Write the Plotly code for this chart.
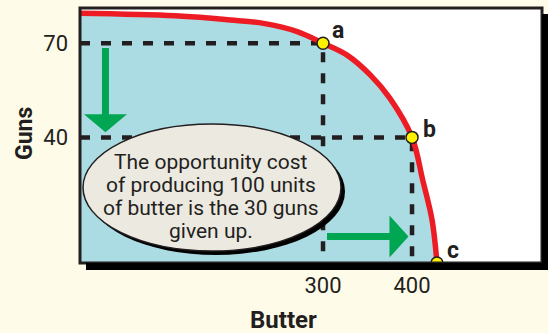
import plotly.graph_objects as go

# ---- data ----
curve_butter = [27, 134, 196, 233, 271, 300, 327, 353, 375, 400, 412, 422.5, 428]
curve_guns = [79.5, 78.7, 77.4, 76.3, 73.7, 70, 66.2, 59.9, 52.5, 40, 26.4, 13.7, 0]
point_labels = ["a", "b", "c"]
point_butter = [300, 400, 428]
point_guns = [70, 40, 0]
x_ticks = [300, 400]
y_ticks = [40, 70]
note_lines = ["The opportunity cost", "of producing 100 units",
              "of butter is the 30 guns", "given up."]

X_RANGE = [27, 546]
Y_RANGE = [0, 81.2]
W, H = 548, 333
ML, MR, MT, MB = 80, 6, 8, 70
PW, PH = W - ML - MR, H - MT - MB
PX_X = PW / (X_RANGE[1] - X_RANGE[0])   # pixels per butter unit
PX_Y = PH / (Y_RANGE[1] - Y_RANGE[0])   # pixels per gun unit

INK = "#231f20"
RED = "#ed1c24"
GREEN = "#00a651"
BLUE = "#acdce3"
CREAM = "#fffbe9"
FONT = "Roboto"

fig = go.Figure()

# shaded area under the frontier
fig.add_trace(go.Scatter(x=curve_butter, y=curve_guns, mode="lines",
                         line=dict(width=0, shape="spline", smoothing=1.0, color=BLUE),
                         fill="tozeroy", fillcolor=BLUE, hoverinfo="skip",
                         showlegend=False))

# dashed guide lines
dash = dict(color=INK, width=4.5, dash="10px,11px")
for bx, gy in zip(point_butter[:2], point_guns[:2]):
    fig.add_trace(go.Scatter(x=[X_RANGE[0], bx, bx], y=[gy, gy, 0], mode="lines",
                             line=dash, showlegend=False, hoverinfo="skip",
                             cliponaxis=False))

# frontier line
fig.add_trace(go.Scatter(x=curve_butter, y=curve_guns, mode="lines",
                         line=dict(width=5.5, shape="spline", smoothing=1.0, color=RED),
                         showlegend=False, hoverinfo="skip"))

# points
fig.add_trace(go.Scatter(x=point_butter, y=point_guns, mode="markers",
                         marker=dict(size=12, color="#fff200",
                                     line=dict(color=INK, width=1.5)),
                         cliponaxis=False, showlegend=False, hoverinfo="skip"))

# point labels
label_shift = [(15, 13), (17, 8), (16, 13)]
for lab, bx, gy, (dx, dy) in zip(point_labels, point_butter, point_guns, label_shift):
    fig.add_annotation(x=bx, y=gy, text="<b>%s</b>" % lab, showarrow=False,
                       xshift=dx, yshift=dy, xanchor="center", yanchor="middle",
                       font=dict(family=FONT, size=23, color=INK))

shapes = []

# green arrows (data coordinates, head sizes in pixels)
def v_arrow(xc, y_from, y_to, shaft=3.5, head_w=21.5, head_l=18):
    sx, hx = shaft / PX_X, head_w / PX_X
    hl = head_l / PX_Y
    yb = y_to + hl
    return ("M %f %f L %f %f L %f %f L %f %f L %f %f L %f %f L %f %f Z" %
            (xc - sx, y_from, xc - sx, yb, xc - hx, yb, xc, y_to,
             xc + hx, yb, xc + sx, yb, xc + sx, y_from))

def h_arrow(yc, x_from, x_to, shaft=3.5, head_w=21, head_l=19):
    sy, hy = shaft / PX_Y, head_w / PX_Y
    hl = head_l / PX_X
    xb = x_to - hl
    return ("M %f %f L %f %f L %f %f L %f %f L %f %f L %f %f L %f %f Z" %
            (x_from, yc + sy, xb, yc + sy, xb, yc + hy, x_to, yc,
             xb, yc - hy, xb, yc - sy, x_from, yc - sy))

shapes.append(dict(type="path", xref="x", yref="y", layer="above",
                   path=v_arrow(55.6, 68.5, 41.6), fillcolor=GREEN, line=dict(width=0)))
shapes.append(dict(type="path", xref="x", yref="y", layer="above",
                   path=h_arrow(8.4, 304.5, 396), fillcolor=GREEN, line=dict(width=0)))

def px_to_paper_x(px):
    return (px - ML) / PW

def px_to_paper_y(py):
    return (H - MB - py) / PH

# callout ellipse with shadow
ex0, ex1, ey0, ey1 = 83, 341, 124, 251
shapes.append(dict(type="circle", xref="paper", yref="paper", layer="above",
                   x0=px_to_paper_x(ex0 + 4), x1=px_to_paper_x(ex1 + 4),
                   y0=px_to_paper_y(ey1 + 4), y1=px_to_paper_y(ey0 + 4),
                   fillcolor="black", line=dict(width=0)))
shapes.append(dict(type="circle", xref="paper", yref="paper", layer="above",
                   x0=px_to_paper_x(ex0), x1=px_to_paper_x(ex1),
                   y0=px_to_paper_y(ey1), y1=px_to_paper_y(ey0),
                   fillcolor="#ece9e1", line=dict(width=1.5, color=INK)))

# frame and drop shadow
shapes.append(dict(type="rect", xref="paper", yref="paper", layer="above",
                   x0=0, x1=1, y0=0, y1=1, line=dict(width=3, color=INK)))
shapes.append(dict(type="rect", xref="paper", yref="paper", layer="above",
                   x0=px_to_paper_x(86), x1=px_to_paper_x(548),
                   y0=px_to_paper_y(270), y1=px_to_paper_y(263),
                   fillcolor="black", line=dict(width=0)))
shapes.append(dict(type="rect", xref="paper", yref="paper", layer="above",
                   x0=px_to_paper_x(542), x1=px_to_paper_x(548),
                   y0=px_to_paper_y(270), y1=px_to_paper_y(14),
                   fillcolor="black", line=dict(width=0)))

# callout text, one annotation per line for tight line spacing
line_y = [162, 185, 208, 231]
for txt, ly in zip(note_lines, line_y):
    fig.add_annotation(xref="paper", yref="paper",
                       x=px_to_paper_x(211), y=px_to_paper_y(ly),
                       xanchor="center", yanchor="middle",
                       text=txt, showarrow=False,
                       font=dict(family=FONT, size=21, color=INK))

# axis titles
fig.add_annotation(xref="paper", yref="paper", x=px_to_paper_x(283), y=px_to_paper_y(320),
                   xanchor="center", yanchor="middle",
                   text="<b>Butter</b>", showarrow=False,
                   font=dict(family=FONT, size=24, color=INK))
fig.add_annotation(xref="paper", yref="paper", x=px_to_paper_x(24), y=px_to_paper_y(134),
                   xanchor="center", yanchor="middle",
                   text="<b>Guns</b>", showarrow=False, textangle=-90,
                   font=dict(family=FONT, size=23, color=INK))

fig.update_layout(
    width=W, height=H, margin=dict(l=ML, r=MR, t=MT, b=MB, autoexpand=False),
    paper_bgcolor=CREAM, plot_bgcolor="white", shapes=shapes,
    showlegend=False,
    xaxis=dict(range=X_RANGE, tickvals=x_ticks, showgrid=False, zeroline=False,
               showline=False, ticks="", ticklabelstandoff=7, automargin=False,
               tickfont=dict(family=FONT, size=22, color=INK), fixedrange=True),
    yaxis=dict(range=Y_RANGE, tickvals=y_ticks, showgrid=False, zeroline=False,
               showline=False, ticks="", ticklabelstandoff=11, automargin=False,
               tickfont=dict(family=FONT, size=22, color=INK), fixedrange=True),
)

fig.write_html("out.html", config={"displayModeBar": False},
               post_script="document.body.style.margin='0';document.body.style.background='%s';" % CREAM)
